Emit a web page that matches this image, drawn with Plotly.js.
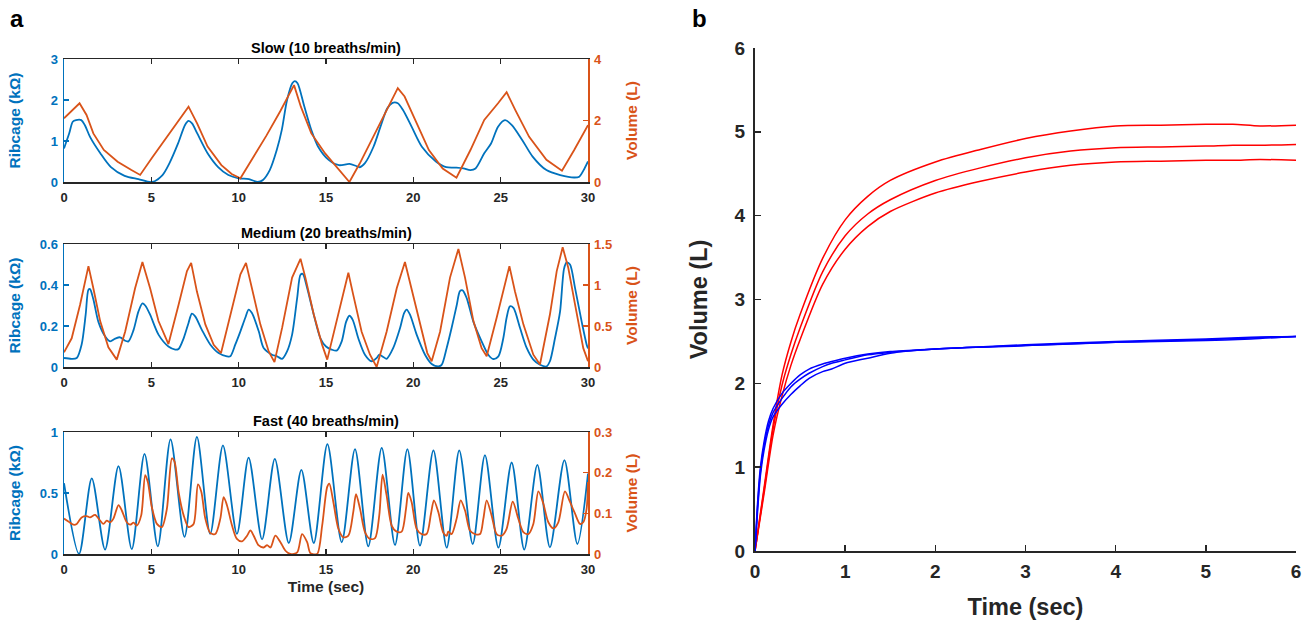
<!DOCTYPE html>
<html>
<head>
<meta charset="utf-8">
<script src="https://cdn.plot.ly/plotly-3.0.1.min.js"></script>
<style>
  html, body { margin: 0; padding: 0; background: #fff; }
  #chart { width: 1308px; height: 623px; }
</style>
</head>
<body>
<div id="chart"></div>
<script>
// ---- panel a, slow (10 breaths/min) ----
const slowRibT = [0,0.30,0.50,0.69,0.99,1.19,1.49,2.08,2.67,3.47,4.26,5.05,5.64,6.04,6.53,6.93,7.13,7.33,7.62,8.22,8.81,9.41,10.0,10.59,11.09,11.39,11.78,12.18,12.47,12.77,13.07,13.21,13.37,13.76,14.16,14.55,15.15,15.74,16.34,16.73,16.93,17.23,17.72,18.12,18.51,18.81,19.11,19.40,19.90,20.49,21.29,21.88,22.47,22.87,23.27,23.56,24.06,24.45,24.85,25.25,25.64,26.24,26.83,27.62,28.41,29.21,29.5,29.80,30.0];
const slowRib = [0.82,1.19,1.47,1.51,1.51,1.39,1.1,0.7,0.37,0.15,0.07,0.0,0.17,0.46,0.94,1.39,1.49,1.43,1.19,0.7,0.37,0.17,0.09,0.07,0.0,0.05,0.29,0.78,1.27,2.0,2.41,2.46,2.41,1.84,1.27,0.86,0.54,0.41,0.44,0.39,0.36,0.46,0.86,1.35,1.8,1.93,1.92,1.76,1.35,0.86,0.5,0.36,0.35,0.33,0.29,0.33,0.7,0.94,1.35,1.51,1.39,1.02,0.62,0.29,0.17,0.11,0.13,0.33,0.5];
const slowVolT = [0,0.89,1.29,1.68,2.28,3.07,3.86,4.36,5.05,5.84,6.63,7.13,7.62,8.22,9.01,9.6,10.1,10.79,11.58,12.38,13.17,13.56,14.16,14.95,15.74,16.34,16.93,17.72,18.51,19.11,19.5,20.1,20.89,21.68,22.47,23.27,24.06,24.85,25.34,25.84,26.63,27.62,28.51,29.21,30];
const slowVol = [2.07,2.56,2.18,1.58,1.04,0.66,0.39,0.23,0.8,1.42,2.05,2.45,1.91,1.15,0.55,0.26,0.12,0.75,1.5,2.3,3.15,2.45,1.58,0.93,0.39,0.0,0.6,1.5,2.35,3.05,2.78,2.02,1.04,0.44,0.14,1.04,2.02,2.56,2.92,2.34,1.47,0.72,0.37,1.04,1.85];

// ---- panel a, medium (20 breaths/min) ----
const medRibT = [0,0.44,0.73,1.01,1.24,1.40,1.49,1.68,1.97,2.35,2.64,2.93,3.21,3.50,3.69,3.98,4.26,4.49,4.65,4.93,5.41,5.98,6.37,6.56,6.85,7.13,7.32,7.51,7.90,8.37,8.85,9.33,9.52,9.81,10.10,10.38,10.57,10.76,11.15,11.43,11.91,12.20,12.49,12.77,13.06,13.35,13.54,13.67,13.92,14.30,14.68,15.0,15.32,15.61,15.90,16.15,16.34,16.53,16.85,17.23,17.61,17.90,18.05,18.28,18.47,18.85,19.24,19.47,19.62,19.81,20.19,20.67,21.05,21.43,21.62,21.91,22.19,22.48,22.67,22.82,23.05,23.44,23.91,24.29,24.58,24.87,25.15,25.34,25.53,25.73,26.11,26.49,26.87,27.25,27.63,27.82,28.11,28.40,28.63,28.78,28.97,29.26,29.64,29.92,30];
const medRib = [0.044,0.04,0.044,0.11,0.255,0.377,0.38,0.33,0.22,0.15,0.125,0.138,0.145,0.128,0.125,0.18,0.27,0.31,0.30,0.255,0.158,0.10,0.085,0.088,0.14,0.215,0.26,0.247,0.18,0.11,0.068,0.052,0.052,0.11,0.174,0.24,0.28,0.263,0.174,0.093,0.06,0.052,0.04,0.076,0.158,0.337,0.45,0.454,0.385,0.255,0.14,0.10,0.085,0.08,0.125,0.22,0.25,0.23,0.14,0.06,0.028,0.044,0.06,0.049,0.04,0.093,0.19,0.263,0.28,0.255,0.158,0.06,0.015,0.003,0.01,0.093,0.19,0.30,0.37,0.374,0.337,0.22,0.125,0.06,0.039,0.052,0.14,0.24,0.296,0.288,0.19,0.093,0.036,0.011,0.003,0.028,0.14,0.27,0.48,0.51,0.5,0.385,0.22,0.11,0.09];
const medVolT = [0,0.44,0.92,1.40,1.68,2.07,2.54,3.02,3.50,4.07,4.49,4.93,5.41,5.98,6.56,7.04,7.28,7.61,8.09,8.57,8.99,9.52,10.10,10.42,10.76,11.24,11.72,12.05,12.49,13.06,13.54,13.82,14.30,14.78,15.07,15.61,15.99,16.28,16.56,17.04,17.52,17.90,18.47,19.05,19.52,19.90,20.38,20.80,21.05,21.53,22.10,22.58,22.96,23.44,23.91,24.20,24.77,25.25,25.50,25.82,26.30,26.87,27.25,27.82,28.21,28.55,28.87,29.26,29.73,30];
const medVol = [0.18,0.35,0.76,1.23,0.96,0.56,0.24,0.09,0.43,0.96,1.28,0.96,0.56,0.28,0.76,1.17,1.27,0.92,0.52,0.27,0.17,0.64,1.13,1.27,0.96,0.52,0.19,0.06,0.48,1.09,1.32,1.09,0.64,0.27,0.09,0.56,0.92,1.15,0.88,0.43,0.15,0.0,0.43,0.96,1.28,0.96,0.52,0.17,0.07,0.43,1.09,1.44,1.09,0.56,0.23,0.13,0.6,1.04,1.23,0.92,0.52,0.15,0.03,0.64,1.17,1.46,1.21,0.76,0.23,0.07];

// ---- panel a, fast (40 breaths/min) ----
const fastRibT = [0,0.86,1.59,2.35,3.12,3.88,4.61,5.37,6.10,6.90,7.61,8.37,9.10,9.90,10.57,11.34,12.07,12.87,13.59,14.30,15.08,15.90,16.66,17.42,18.19,18.95,19.66,20.38,21.15,21.91,22.63,23.40,24.10,24.87,25.63,26.35,27.10,27.82,28.65,29.39,30];
const fastRib = [0.58,0.0,0.62,0.036,0.72,0.04,0.82,0.063,0.94,0.14,0.96,0.165,0.89,0.165,0.79,0.12,0.78,0.09,0.69,0.09,0.9,0.096,0.86,0.063,0.87,0.074,0.86,0.069,0.85,0.052,0.85,0.082,0.81,0.052,0.75,0.036,0.73,0.055,0.77,0.082,0.66];
const fastVolT = [0,0.25,0.54,0.73,1.01,1.30,1.49,1.78,2.07,2.26,2.45,2.64,2.83,3.12,3.31,3.59,3.79,3.98,4.17,4.42,4.65,4.80,5.03,5.32,5.60,5.89,6.18,6.33,6.56,6.85,7.13,7.42,7.67,7.86,8.09,8.37,8.66,8.95,9.14,9.33,9.62,9.90,10.19,10.48,10.67,10.86,11.15,11.43,11.63,11.82,12.10,12.39,12.68,12.96,13.35,13.63,13.92,14.11,14.49,14.78,15.07,15.19,15.42,15.71,15.99,16.28,16.56,16.72,16.95,17.23,17.52,17.81,18.05,18.24,18.47,18.76,19.05,19.33,19.58,19.71,19.90,20.19,20.48,20.76,21.01,21.18,21.43,21.72,21.91,22.0,22.19,22.48,22.71,22.96,23.24,23.53,23.82,24.01,24.20,24.48,24.77,25.06,25.34,25.69,26.01,26.30,26.58,26.87,27.16,27.44,27.73,28.02,28.30,28.68,28.97,29.26,29.54,29.73,29.92,30];
const fastVol = [0.087,0.08,0.072,0.074,0.09,0.093,0.09,0.096,0.082,0.074,0.082,0.078,0.087,0.12,0.107,0.078,0.072,0.077,0.07,0.095,0.194,0.177,0.115,0.074,0.066,0.111,0.235,0.227,0.153,0.095,0.066,0.074,0.171,0.153,0.087,0.052,0.049,0.087,0.14,0.12,0.07,0.037,0.031,0.045,0.058,0.045,0.021,0.016,0.022,0.016,0.045,0.029,0.008,0,0.004,0.049,0.029,0.002,0,0.07,0.165,0.173,0.128,0.062,0.041,0.045,0.103,0.147,0.111,0.054,0.037,0.039,0.095,0.195,0.144,0.07,0.055,0.055,0.111,0.15,0.128,0.062,0.049,0.049,0.099,0.132,0.103,0.052,0.045,0.055,0.049,0.087,0.132,0.107,0.058,0.049,0.049,0.087,0.132,0.095,0.049,0.045,0.062,0.129,0.087,0.054,0.049,0.074,0.154,0.124,0.078,0.063,0.078,0.154,0.128,0.099,0.074,0.078,0.111,0.177];

// ---- panel b ----
const redT = [0,0.1,0.2,0.3,0.4,0.5,0.75,1,1.25,1.5,2,2.5,3,3.5,4,4.5,5,5.3,5.6,6];
const red1 = [0,0.75,1.5,2.1,2.5,2.82,3.49,3.95,4.23,4.42,4.64,4.79,4.92,5.01,5.07,5.08,5.09,5.09,5.07,5.08];
const red2 = [0,0.72,1.45,1.98,2.35,2.66,3.33,3.76,4.02,4.19,4.42,4.57,4.69,4.77,4.81,4.82,4.83,4.84,4.84,4.85];
const red3 = [0,0.68,1.38,1.85,2.22,2.52,3.18,3.6,3.87,4.05,4.27,4.41,4.52,4.6,4.64,4.65,4.66,4.66,4.67,4.66];
const blueT = [0,0.03,0.06,0.1,0.15,0.2,0.3,0.4,0.5,0.6,0.75,0.85,1,1.25,1.5,2,3,4,5,5.5,6];
const blue1 = [0,0.6,1.0,1.3,1.55,1.7,1.88,2.0,2.1,2.17,2.23,2.26,2.3,2.35,2.38,2.41,2.46,2.5,2.53,2.55,2.56];
const blue2 = [0,0.55,0.95,1.25,1.5,1.65,1.82,1.96,2.05,2.12,2.2,2.24,2.28,2.34,2.37,2.41,2.45,2.49,2.51,2.53,2.56];
const blue3 = [0,0.5,0.9,1.2,1.45,1.6,1.75,1.87,1.97,2.06,2.14,2.17,2.24,2.3,2.36,2.41,2.45,2.49,2.52,2.54,2.56];

const ribColor = '#0072BD';
const volColor = '#D95319';
const axColor = '#262626';
const W = 1308, H = 623;
const FAMILY = 'Liberation Sans, Arial, sans-serif';

// pixel -> paper helpers
const px = v => v / W;
const py = v => 1 - v / H;

const bold = (size, color) => ({ family: FAMILY, size: size, weight: 'bold', color: color });

function line(x, y, color, xa, ya, width, spline) {
  return {
    x: x, y: y, xaxis: xa, yaxis: ya, type: 'scatter', mode: 'lines',
    line: { color: color, width: width, shape: spline ? 'spline' : 'linear', smoothing: 0.8 },
    hoverinfo: 'none', showlegend: false
  };
}

const traces = [
  line(slowRibT, slowRib, ribColor, 'x', 'y', 1.8, true),
  line(slowVolT, slowVol, volColor, 'x', 'y2', 1.8, false),
  line(medRibT, medRib, ribColor, 'x2', 'y3', 1.8, true),
  line(medVolT, medVol, volColor, 'x2', 'y4', 1.8, false),
  line(fastRibT, fastRib, ribColor, 'x3', 'y5', 1.8, true),
  line(fastVolT, fastVol, volColor, 'x3', 'y6', 1.8, true),
  line(redT, red1, '#ff0000', 'x4', 'y7', 1.5, true),
  line(redT, red2, '#ff0000', 'x4', 'y7', 1.5, true),
  line(redT, red3, '#ff0000', 'x4', 'y7', 1.5, true),
  line(blueT, blue1, '#0000ff', 'x4', 'y7', 1.5, true),
  line(blueT, blue2, '#0000ff', 'x4', 'y7', 1.5, true),
  line(blueT, blue3, '#0000ff', 'x4', 'y7', 1.5, true)
];

const xDomA = [px(64), px(588)];
const rows = [
  { top: 59, bottom: 182 },
  { top: 244, bottom: 367 },
  { top: 432, bottom: 554 }
];

function xAxisA(anchor, withTitle) {
  const ax = {
    domain: xDomA, anchor: anchor, range: [0, 30], tickvals: [0, 5, 10, 15, 20, 25, 30],
    ticks: 'inside', ticklen: 5, tickwidth: 1.3, tickcolor: axColor,
    showline: true, linecolor: axColor, linewidth: 1.5, mirror: 'ticks',
    showgrid: false, zeroline: false, tickfont: bold(13, axColor), ticklabelstandoff: 3
  };
  if (withTitle) ax.title = { text: 'Time (sec)', font: bold(15.5, axColor), standoff: 5 };
  return ax;
}

function yAxisA(row, anchor, range, dtick, color, side, overlay, title, standoff) {
  const ax = {
    domain: [py(row.bottom), py(row.top)], anchor: anchor, range: range, dtick: dtick,
    ticks: 'inside', ticklen: 5, tickwidth: 1.3, tickcolor: color,
    showline: true, linecolor: color, linewidth: 1.5,
    showgrid: false, zeroline: false, tickfont: bold(13, color), ticklabelstandoff: 2,
    title: { text: title, font: bold(15.5, color), standoff: standoff }
  };
  if (side) ax.side = side;
  if (overlay) ax.overlaying = overlay;
  return ax;
}

const subTitle = (text, row) => ({
  text: text, xref: 'paper', yref: 'paper', x: (xDomA[0] + xDomA[1]) / 2, y: py(row.top - 1),
  xanchor: 'center', yanchor: 'bottom', showarrow: false,
  font: bold(14.5, '#000')
});

const panelLabel = (text, x) => ({
  text: text, xref: 'paper', yref: 'paper', x: px(x), y: py(3),
  xanchor: 'left', yanchor: 'top', showarrow: false,
  font: bold(24, '#000')
});

const layout = {
  width: W, height: H,
  margin: { l: 0, r: 0, t: 0, b: 0 },
  paper_bgcolor: '#fff', plot_bgcolor: 'rgba(0,0,0,0)',
  showlegend: false,
  xaxis: xAxisA('y', false),
  yaxis: yAxisA(rows[0], 'x', [0, 3], 1, ribColor, null, null, 'Ribcage (kΩ)', 26),
  yaxis2: yAxisA(rows[0], 'x', [0, 4], 2, volColor, 'right', 'y', 'Volume (L)', 25),
  xaxis2: xAxisA('y3', false),
  yaxis3: yAxisA(rows[1], 'x2', [0, 0.6], 0.2, ribColor, null, null, 'Ribcage (kΩ)', 15),
  yaxis4: yAxisA(rows[1], 'x2', [0, 1.5], 0.5, volColor, 'right', 'y3', 'Volume (L)', 15),
  xaxis3: xAxisA('y5', true),
  yaxis5: yAxisA(rows[2], 'x3', [0, 1], 0.5, ribColor, null, null, 'Ribcage (kΩ)', 15),
  yaxis6: yAxisA(rows[2], 'x3', [0, 0.3], 0.1, volColor, 'right', 'y5', 'Volume (L)', 15),
  xaxis4: {
    domain: [px(755), px(1296)], anchor: 'y7', range: [0, 6], dtick: 1,
    ticks: 'inside', ticklen: 6, tickwidth: 1.5, tickcolor: axColor,
    showline: true, linecolor: axColor, linewidth: 2,
    showgrid: false, zeroline: false, tickfont: bold(19, axColor), ticklabelstandoff: 2,
    title: { text: 'Time (sec)', font: bold(23.5, axColor), standoff: 18 }
  },
  yaxis7: {
    domain: [py(551), py(48)], anchor: 'x4', range: [0, 6], dtick: 1,
    ticks: 'inside', ticklen: 6, tickwidth: 1.5, tickcolor: axColor,
    showline: true, linecolor: axColor, linewidth: 2,
    showgrid: false, zeroline: false, tickfont: bold(19, axColor), ticklabelstandoff: 4,
    title: { text: 'Volume (L)', font: bold(23.5, axColor), standoff: 20 }
  },
  annotations: [
    subTitle('Slow (10 breaths/min)', rows[0]),
    subTitle('Medium (20 breaths/min)', rows[1]),
    subTitle('Fast (40 breaths/min)', rows[2]),
    panelLabel('a', 8),
    panelLabel('b', 690)
  ]
};

Plotly.newPlot('chart', traces, layout, { staticPlot: true, displayModeBar: false });
</script>
</body>
</html>
